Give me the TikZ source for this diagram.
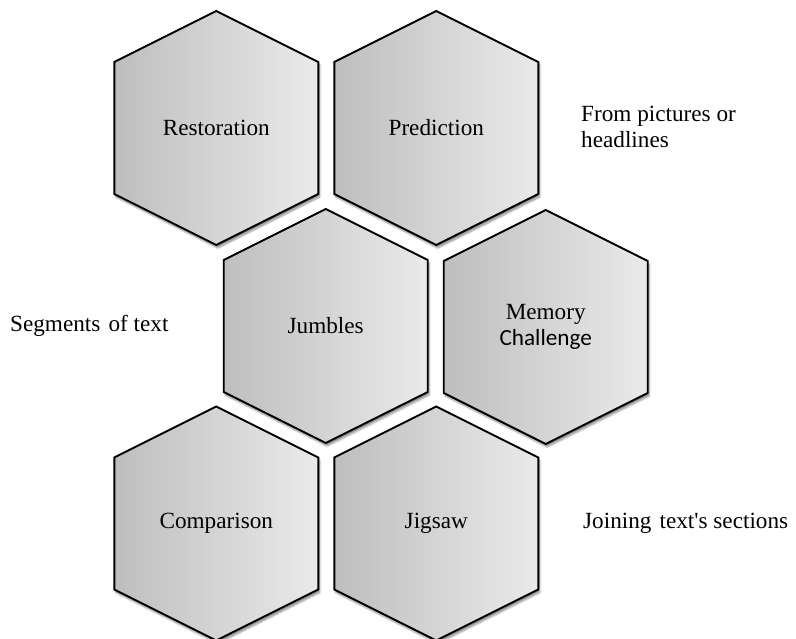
\documentclass[tikz,border=0pt]{standalone}
\usepackage{fontspec}
\setmainfont{Liberation Serif}
\setsansfont{Carlito}
\usetikzlibrary{shadows.blur}

\definecolor{hexleft}{RGB}{190,190,190}
\definecolor{hexright}{RGB}{234,234,234}
\tikzset{
  hexcell/.style={line width=1.9pt, line join=miter, left color=hexleft, right color=hexright,
    blur shadow={shadow xshift=1.5pt, shadow yshift=-3pt, shadow blur steps=6, shadow opacity=45}},
  hexlabel/.style={font=\fontsize{23.2}{25.5}\selectfont, align=center, inner sep=0pt},
  sidenote/.style={font=\fontsize{23.2}{26.3}\selectfont, align=left, inner sep=0pt}
}

\begin{document}
\begin{tikzpicture}[x=1pt,y=-1pt]
\useasboundingbox (0,0) rectangle (796,639);

\def\hw{102}; \def\hh{117}; \def\hs{66};

\foreach \name/\cx/\cy/\txt in {rest/216.3/128/{Restoration}, pred/436.3/128/{Prediction},
    jumb/325.7/326/{Jumbles}, memo/545.7/327/{{\rmfamily Memory}\\{\sffamily Challenge}},
    comp/216.3/523.5/{Comparison}, jigs/436.3/523.5/{Jigsaw}}{
\draw[hexcell] (\cx,\cy-\hh)--(\cx+\hw,\cy-\hs)--(\cx+\hw,\cy+\hs)--(\cx,\cy+\hh)--(\cx-\hw,\cy+\hs)--(\cx-\hw,\cy-\hs)--cycle;
\node[hexlabel] (\name) at (\cx,\cy) {\txt};
}

\node[sidenote, anchor=base west] (frompics) at (581,148) {From pictures or\\headlines};
\node[sidenote, anchor=west] (segments) at (10,326) {Segments\hspace{0.1em} of text};
\node[sidenote, anchor=west] (joining) at (583,523.5) {Joining\hspace{0.1em} text\textquotesingle s sections};

\end{tikzpicture}
\end{document}
